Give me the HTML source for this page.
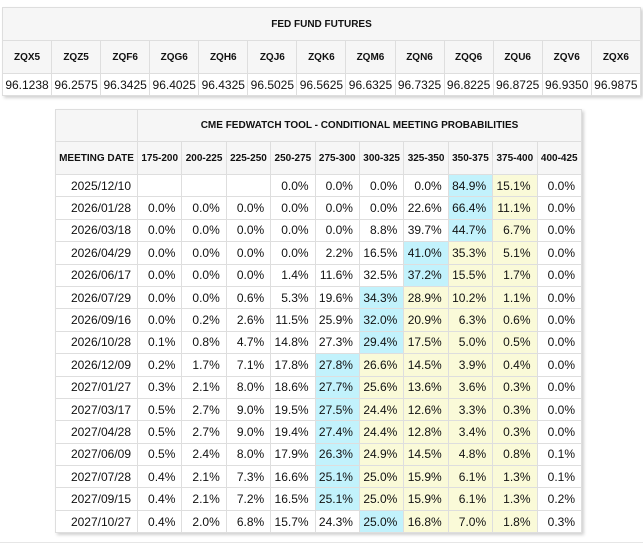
<!DOCTYPE html>
<html><head><meta charset="utf-8"><style>
body{margin:0;width:643px;height:545px;background:#fff;font-family:"Liberation Sans",Arial,sans-serif;position:relative;overflow:hidden}
table{border-collapse:collapse;table-layout:fixed;position:absolute;box-shadow:2px 2px 3px rgba(0,0,0,0.18)}
td,th{border:1px solid #dedede;padding:0;color:#111;white-space:nowrap;overflow:hidden}
th{background:#f6f6f6;font-size:10px;font-weight:bold;text-align:center}
#t1{left:2px;top:7px;width:639px}
#t1 td{font-size:12px;text-align:center;height:21px}
#t2{left:55px;top:109px;width:527px}
#t2 td{font-size:12px;text-align:right;padding-right:6px;height:21.4px}
.b{background:#c2f2fc}.y{background:#fafad8}
</style></head><body>
<table id="t1">
<tr><th colspan="13" style="height:32px">FED FUND FUTURES</th></tr>
<tr style="height:33px"><th>ZQX5</th><th>ZQZ5</th><th>ZQF6</th><th>ZQG6</th><th>ZQH6</th><th>ZQJ6</th><th>ZQK6</th><th>ZQM6</th><th>ZQN6</th><th>ZQQ6</th><th>ZQU6</th><th>ZQV6</th><th>ZQX6</th></tr>
<tr><td>96.1238</td><td>96.2575</td><td>96.3425</td><td>96.4025</td><td>96.4325</td><td>96.5025</td><td>96.5625</td><td>96.6325</td><td>96.7325</td><td>96.8225</td><td>96.8725</td><td>96.9350</td><td>96.9875</td></tr>
</table>
<table id="t2">
<colgroup><col style="width:82px"><col><col><col><col><col><col><col><col><col><col></colgroup>
<tr><th style="height:31px"></th><th colspan="10">CME FEDWATCH TOOL - CONDITIONAL MEETING PROBABILITIES</th></tr>
<tr style="height:33px"><th>MEETING DATE</th><th>175-200</th><th>200-225</th><th>225-250</th><th>250-275</th><th>275-300</th><th>300-325</th><th>325-350</th><th>350-375</th><th>375-400</th><th>400-425</th></tr>
<tr><td>2025/12/10</td><td></td><td></td><td></td><td>0.0%</td><td>0.0%</td><td>0.0%</td><td>0.0%</td><td class="b">84.9%</td><td class="y">15.1%</td><td>0.0%</td></tr>
<tr><td>2026/01/28</td><td>0.0%</td><td>0.0%</td><td>0.0%</td><td>0.0%</td><td>0.0%</td><td>0.0%</td><td>22.6%</td><td class="b">66.4%</td><td class="y">11.1%</td><td>0.0%</td></tr>
<tr><td>2026/03/18</td><td>0.0%</td><td>0.0%</td><td>0.0%</td><td>0.0%</td><td>0.0%</td><td>8.8%</td><td>39.7%</td><td class="b">44.7%</td><td class="y">6.7%</td><td>0.0%</td></tr>
<tr><td>2026/04/29</td><td>0.0%</td><td>0.0%</td><td>0.0%</td><td>0.0%</td><td>2.2%</td><td>16.5%</td><td class="b">41.0%</td><td class="y">35.3%</td><td class="y">5.1%</td><td>0.0%</td></tr>
<tr><td>2026/06/17</td><td>0.0%</td><td>0.0%</td><td>0.0%</td><td>1.4%</td><td>11.6%</td><td>32.5%</td><td class="b">37.2%</td><td class="y">15.5%</td><td class="y">1.7%</td><td>0.0%</td></tr>
<tr><td>2026/07/29</td><td>0.0%</td><td>0.0%</td><td>0.6%</td><td>5.3%</td><td>19.6%</td><td class="b">34.3%</td><td class="y">28.9%</td><td class="y">10.2%</td><td class="y">1.1%</td><td>0.0%</td></tr>
<tr><td>2026/09/16</td><td>0.0%</td><td>0.2%</td><td>2.6%</td><td>11.5%</td><td>25.9%</td><td class="b">32.0%</td><td class="y">20.9%</td><td class="y">6.3%</td><td class="y">0.6%</td><td>0.0%</td></tr>
<tr><td>2026/10/28</td><td>0.1%</td><td>0.8%</td><td>4.7%</td><td>14.8%</td><td>27.3%</td><td class="b">29.4%</td><td class="y">17.5%</td><td class="y">5.0%</td><td class="y">0.5%</td><td>0.0%</td></tr>
<tr><td>2026/12/09</td><td>0.2%</td><td>1.7%</td><td>7.1%</td><td>17.8%</td><td class="b">27.8%</td><td class="y">26.6%</td><td class="y">14.5%</td><td class="y">3.9%</td><td class="y">0.4%</td><td>0.0%</td></tr>
<tr><td>2027/01/27</td><td>0.3%</td><td>2.1%</td><td>8.0%</td><td>18.6%</td><td class="b">27.7%</td><td class="y">25.6%</td><td class="y">13.6%</td><td class="y">3.6%</td><td class="y">0.3%</td><td>0.0%</td></tr>
<tr><td>2027/03/17</td><td>0.5%</td><td>2.7%</td><td>9.0%</td><td>19.5%</td><td class="b">27.5%</td><td class="y">24.4%</td><td class="y">12.6%</td><td class="y">3.3%</td><td class="y">0.3%</td><td>0.0%</td></tr>
<tr><td>2027/04/28</td><td>0.5%</td><td>2.7%</td><td>9.0%</td><td>19.4%</td><td class="b">27.4%</td><td class="y">24.4%</td><td class="y">12.8%</td><td class="y">3.4%</td><td class="y">0.3%</td><td>0.0%</td></tr>
<tr><td>2027/06/09</td><td>0.5%</td><td>2.4%</td><td>8.0%</td><td>17.9%</td><td class="b">26.3%</td><td class="y">24.9%</td><td class="y">14.5%</td><td class="y">4.8%</td><td class="y">0.8%</td><td>0.1%</td></tr>
<tr><td>2027/07/28</td><td>0.4%</td><td>2.1%</td><td>7.3%</td><td>16.6%</td><td class="b">25.1%</td><td class="y">25.0%</td><td class="y">15.9%</td><td class="y">6.1%</td><td class="y">1.3%</td><td>0.1%</td></tr>
<tr><td>2027/09/15</td><td>0.4%</td><td>2.1%</td><td>7.2%</td><td>16.5%</td><td class="b">25.1%</td><td class="y">25.0%</td><td class="y">15.9%</td><td class="y">6.1%</td><td class="y">1.3%</td><td>0.2%</td></tr>
<tr><td>2027/10/27</td><td>0.4%</td><td>2.0%</td><td>6.8%</td><td>15.7%</td><td>24.3%</td><td class="b">25.0%</td><td class="y">16.8%</td><td class="y">7.0%</td><td class="y">1.8%</td><td>0.3%</td></tr>
</table>
<div style="position:absolute;left:0;top:542px;width:643px;height:1px;background:#e6e6e6"></div>
</body></html>
